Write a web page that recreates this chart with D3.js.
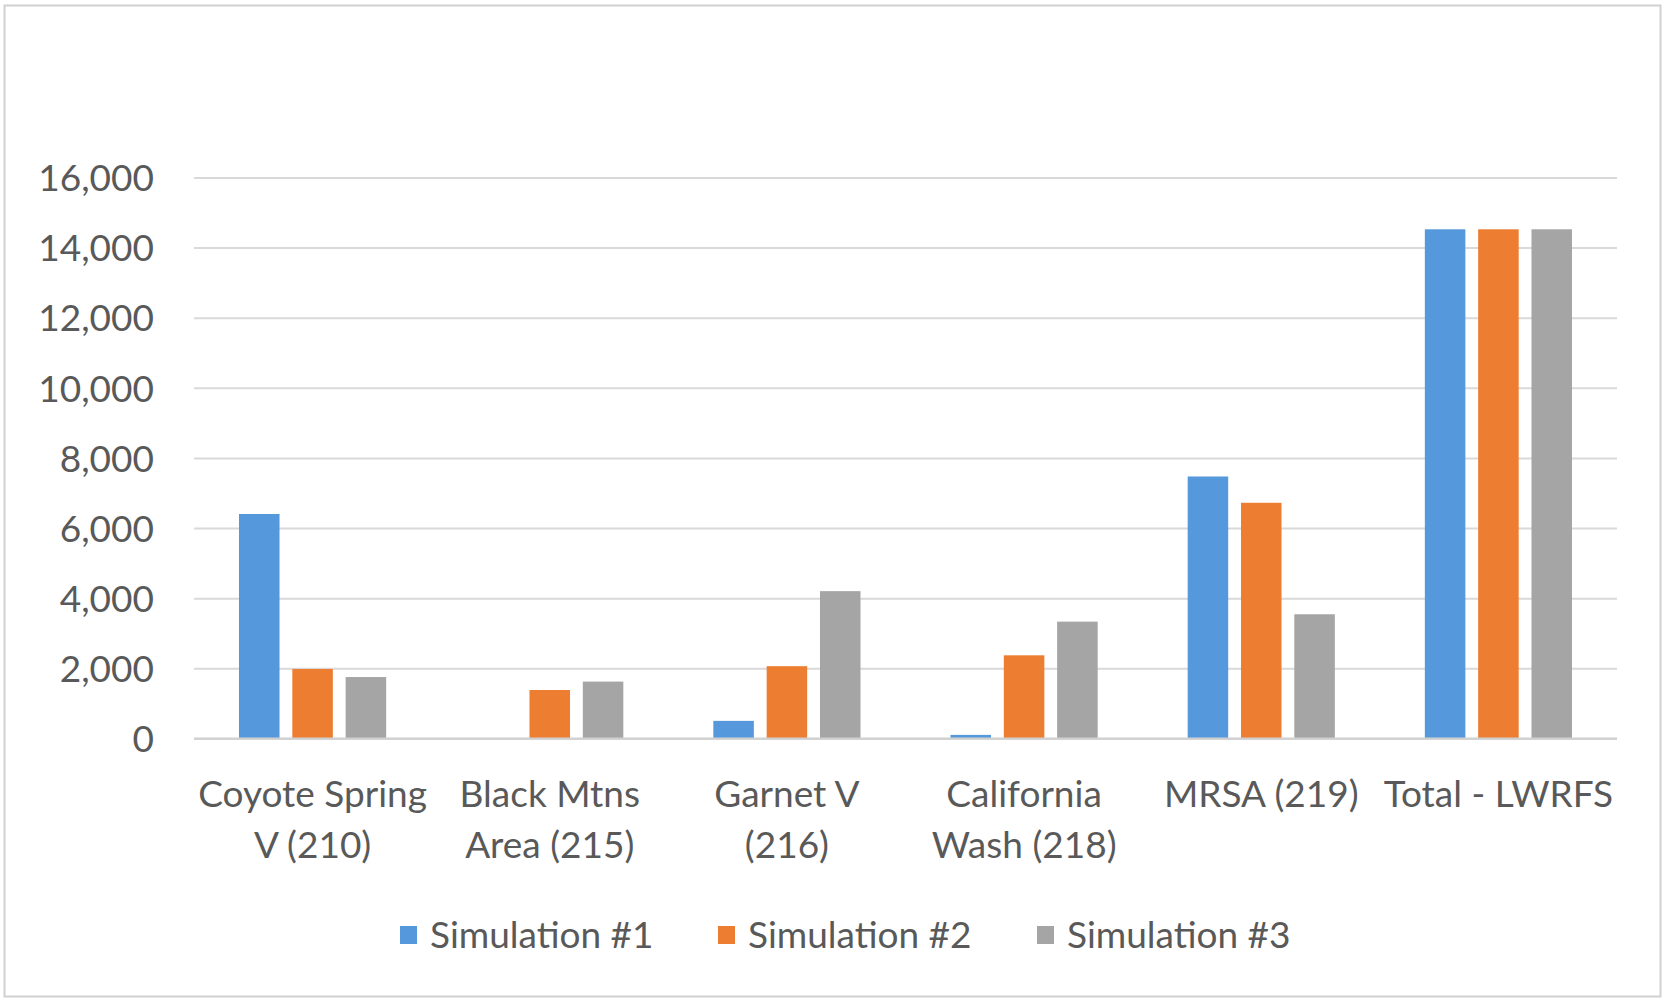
<!DOCTYPE html>
<html>
<head>
<meta charset="utf-8">
<script src="https://cdn.jsdelivr.net/npm/d3@7"></script>
<style>
  html, body { margin: 0; padding: 0; background: #ffffff; }
  svg { display: block; }
  text { font-family: Lato, "Open Sans", sans-serif; fill: #595959; }
</style>
</head>
<body>
<svg id="chart" width="1666" height="1001"></svg>
<script>
// Basin categories (two-line labels)
const categories = [
  ["Coyote Spring", "V (210)"],
  ["Black Mtns", "Area (215)"],
  ["Garnet V", "(216)"],
  ["California", "Wash (218)"],
  ["MRSA (219)"],
  ["Total - LWRFS"]
];
const seriesNames = ["Simulation #1", "Simulation #2", "Simulation #3"];
const sim1 = [6400, 0, 500, 100, 7470, 14520];
const sim2 = [1980, 1380, 2060, 2370, 6720, 14520];
const sim3 = [1750, 1620, 4200, 3330, 3540, 14520];
const yTicks = [0, 2000, 4000, 6000, 8000, 10000, 12000, 14000, 16000];
const colors = ["#5599dc", "#ED7D31", "#A5A5A5"];

const series = [sim1, sim2, sim3];
const svg = d3.select("#chart");

// Outer frame
svg.append("rect")
  .attr("x", 4.5).attr("y", 5.5)
  .attr("width", 1656).attr("height", 991)
  .attr("fill", "#ffffff")
  .attr("stroke", "#d0d0d0").attr("stroke-width", 2);

const plot = { left: 194, right: 1617, top: 177.4, bottom: 738.4 };

const y = d3.scaleLinear().domain([0, 16000]).range([plot.bottom, plot.top]);
const x0 = d3.scaleBand()
  .domain(d3.range(categories.length))
  .range([plot.left, plot.right])
  .padding(0);
const inset = 45;
const x1 = d3.scaleBand()
  .domain(d3.range(series.length))
  .range([inset, x0.bandwidth() - inset])
  .paddingInner(0.24)
  .paddingOuter(0);

// Horizontal gridlines + y labels
const yAxis = d3.axisLeft(y)
  .tickValues(yTicks)
  .tickSize(-(plot.right - plot.left))
  .tickPadding(40)
  .tickFormat(d3.format(","));
const yG = svg.append("g")
  .attr("transform", `translate(${plot.left},0)`)
  .call(yAxis);
yG.select(".domain").remove();
yG.selectAll(".tick line")
  .attr("stroke", "#d9d9d9")
  .attr("stroke-width", 2);
yG.selectAll(".tick text")
  .attr("font-size", 37)
  .attr("fill", "#595959")
  .attr("dy", "0.36em");

// Bars
const groups = svg.append("g").selectAll("g")
  .data(categories.map((c, i) => i))
  .join("g")
  .attr("transform", i => `translate(${x0(i)},0)`);

groups.selectAll("rect")
  .data(i => series.map((s, k) => ({ k, v: s[i] })))
  .join("rect")
  .attr("x", d => x1(d.k))
  .attr("width", x1.bandwidth())
  .attr("y", d => y(d.v))
  .attr("height", d => y(0) - y(d.v))
  .attr("fill", d => colors[d.k]);

// Baseline
svg.append("line")
  .attr("x1", plot.left).attr("x2", plot.right)
  .attr("y1", y(0)).attr("y2", y(0))
  .attr("stroke", "#d0d0d0").attr("stroke-width", 2);

// Category labels
const xLab = svg.append("g").selectAll("text")
  .data(categories)
  .join("text")
  .attr("text-anchor", "middle")
  .attr("font-size", 37)
  .attr("x", (d, i) => x0(i) + x0.bandwidth() / 2)
  .attr("y", 807);
xLab.selectAll("tspan")
  .data(d => d)
  .join("tspan")
  .attr("x", function () { return d3.select(this.parentNode).attr("x"); })
  .attr("dy", (d, j) => j === 0 ? 0 : 51)
  .text(d => d);

// Legend
const legendX = [400, 718, 1037];
const legend = svg.append("g").selectAll("g")
  .data(seriesNames)
  .join("g")
  .attr("transform", (d, i) => `translate(${legendX[i]},935)`);
legend.append("rect")
  .attr("x", 0).attr("y", -9)
  .attr("width", 17).attr("height", 18)
  .attr("fill", (d, i) => colors[i]);
legend.append("text")
  .attr("x", 30).attr("y", 0)
  .attr("dy", "0.36em")
  .attr("font-size", 37)
  .text(d => d);
</script>
</body>
</html>
